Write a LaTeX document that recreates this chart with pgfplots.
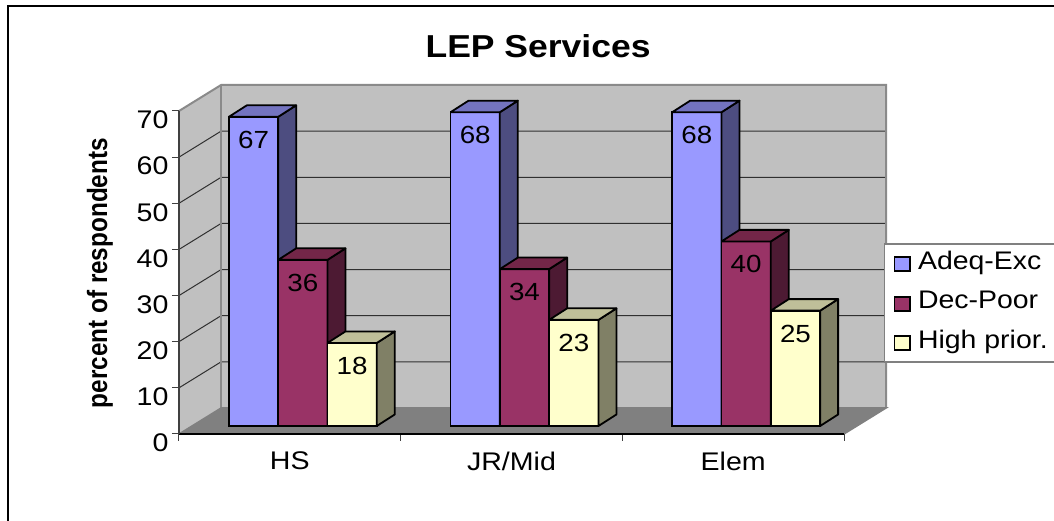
\documentclass[border=0pt]{standalone}
\usepackage{pgfplots}
\usepackage{pgfplotstable}
\usepackage{fontspec}
\pgfplotsset{compat=1.18}
\setmainfont[FakeStretch=1.12]{Liberation Sans}
\newfontfamily\ylabfont[FakeStretch=1.0]{Liberation Sans}
\definecolor{wall}{HTML}{C0C0C0}
\definecolor{floorc}{HTML}{808080}
\definecolor{edgec}{HTML}{8A8A8A}
\definecolor{gridc}{HTML}{303030}
\definecolor{sa}{HTML}{9999FF}\definecolor{sb}{HTML}{993366}\definecolor{sc}{HTML}{FFFFCC}
\definecolor{sas}{HTML}{4D4D80}\definecolor{sbs}{HTML}{4D1A33}\definecolor{scs}{HTML}{808066}
\definecolor{sat}{HTML}{7373BF}\definecolor{sbt}{HTML}{732648}\definecolor{sct}{HTML}{BFBF99}
\pgfplotstableread{
x a b c
0.5 67 36 18
1.5 68 34 23
2.5 68 40 25
}\lep
% depth faces of one bar: {centre}{value}{side colour}{top colour}
\newcommand\faces[4]{%
  \pgfmathsetmacro\xl{#1-0.1112}\pgfmathsetmacro\xr{#1+0.1112}%
  \pgfmathsetmacro\xld{\xl+0.0812}\pgfmathsetmacro\xrd{\xr+0.0812}%
  \pgfmathsetmacro\yt{#2+2.5}%
  \edef\temp{\noexpand\addplot[forget plot,draw=black,line width=1.8pt,line join=round,fill=#3,xshift=13pt,yshift=8pt] coordinates {(\xr,0) (\xrd,2.5) (\xrd,\yt) (\xr,#2) (\xr,0)};
  \noexpand\addplot[forget plot,draw=black,line width=1.8pt,line join=round,fill=#4,xshift=13pt,yshift=8pt] coordinates {(\xl,#2) (\xld,\yt) (\xrd,\yt) (\xr,#2) (\xl,#2)};}%
  \temp}
\pgfplotsset{barlabels/.style={nodes near coords,
  nodes near coords style={font=\fontsize{24.8}{28}\selectfont,anchor=center,yshift=-23pt,xshift=#1,text=black}}}
\begin{document}
\begin{tikzpicture}
\draw[line width=2.5pt,black] (880pt,428pt) -- (-171pt,428pt) -- (-171pt,-95pt);
\begin{axis}[
  at={(0pt,0pt)},anchor=origin,
  scale only axis,width=665pt,height=323pt,
  xmin=0,xmax=3,ymin=0,ymax=70,clip=false,
  axis on top,
  axis x line*=bottom,axis y line*=left,
  axis line style={-,line width=1.5pt},
  x axis line style={black},y axis line style={black!75},
  xtick={0.5,1.5,2.5},xticklabels={HS,JR/Mid,Elem},
  minor xtick={0,1,2,3},
  ytick={0,10,...,70},
  tick align=outside,tick pos=left,
  major tick length=7pt,minor tick length=7pt,
  major x tick style={draw=none},
  minor x tick style={black!75,line width=1pt},
  y tick style={black!75,line width=1pt},
  /pgf/number format/assume math mode=true,
  tick label style={font=\fontsize{25.5}{29}\selectfont},
  yticklabel style={yshift=-9pt,xshift=0pt},
  xticklabel style={yshift=-7pt},
  title={LEP Services},
  title style={at={(0.54,1.183)},anchor=center,font=\fontsize{31.7}{36}\selectfont\bfseries},
  ylabel={percent of respondents},
  ylabel style={at={(-0.119,0.498)},anchor=center,rotate=0,yscale=1.15,font=\ylabfont\fontsize{24.3}{28}\selectfont\bfseries},
  legend style={at={(1.060,0.591)},anchor=north west,draw=floorc,line width=1.5pt,fill=white,
    inner xsep=9pt,inner ysep=7.5pt,row sep=15.5pt,
    nodes={font=\fontsize{25.4}{28}\selectfont,text height=18pt,text depth=6pt,inner sep=0pt,anchor=base west}},
  legend cell align=left,
  legend image code/.code={\path[draw=none,fill=none] (0pt,0pt) -- (24pt,0pt);\draw[#1,draw=black,line width=1.8pt,solid] (0.5pt,-10pt) rectangle (15.7pt,4pt);},
]
% walls, floor and grid
\addplot[forget plot,fill=wall,draw=none] coordinates {(0.19,5.64) (3.19,5.64) (3.19,75.64) (0.19,75.64) (0.19,5.64)};
\addplot[forget plot,fill=wall,draw=none] coordinates {(0,0) (0.19,5.64) (0.19,75.64) (0,70) (0,0)};
\addplot[forget plot,fill=floorc,draw=none] coordinates {(0,0) (3,0) (3.19,5.64) (0.19,5.64) (0,0)};
\pgfplotsinvokeforeach{10,20,30,40,50,60}{%
  \pgfmathsetmacro\yb{#1+5.64}%
  \edef\temp{\noexpand\addplot[forget plot,gridc,line width=1pt] coordinates {(0,#1) (0.19,\yb) (3.19,\yb)};}\temp}
\addplot[forget plot,edgec,line width=2pt] coordinates {(0,70) (0.19,75.64) (3.19,75.64) (3.19,5.64)};
\addplot[forget plot,edgec,line width=2pt] coordinates {(0.19,75.64) (0.19,5.64)};
\addplot[forget plot,floorc,line width=1.5pt] coordinates {(0,0) (0.19,5.64) (3.19,5.64) (3,0)};
% series 1
\addplot[ybar,bar width=49.3pt,bar shift=-49.3pt,draw=black,line width=1.8pt,fill=sa,xshift=13pt,yshift=8pt,barlabels=-49.3pt] table[x=x,y=a] {\lep};
\addlegendentry{Adeq-Exc}
\faces{0.2775}{67}{sas}{sat}\faces{1.2775}{68}{sas}{sat}\faces{2.2775}{68}{sas}{sat}
% series 2
\addplot[ybar,bar width=49.3pt,bar shift=0pt,draw=black,line width=1.8pt,fill=sb,xshift=13pt,yshift=8pt,barlabels=0pt] table[x=x,y=b] {\lep};
\addlegendentry{Dec-Poor}
\faces{0.5}{36}{sbs}{sbt}\faces{1.5}{34}{sbs}{sbt}\faces{2.5}{40}{sbs}{sbt}
% series 3
\addplot[ybar,bar width=49.3pt,bar shift=49.3pt,draw=black,line width=1.8pt,fill=sc,xshift=13pt,yshift=8pt,barlabels=49.3pt] table[x=x,y=c] {\lep};
\addlegendentry{High prior.\hspace*{10pt}}
\faces{0.7225}{18}{scs}{sct}\faces{1.7225}{23}{scs}{sct}\faces{2.7225}{25}{scs}{sct}
\end{axis}
\pgfresetboundingbox
\useasboundingbox (-179pt,-87pt) rectangle (875pt,434pt);
\end{tikzpicture}
\end{document}
